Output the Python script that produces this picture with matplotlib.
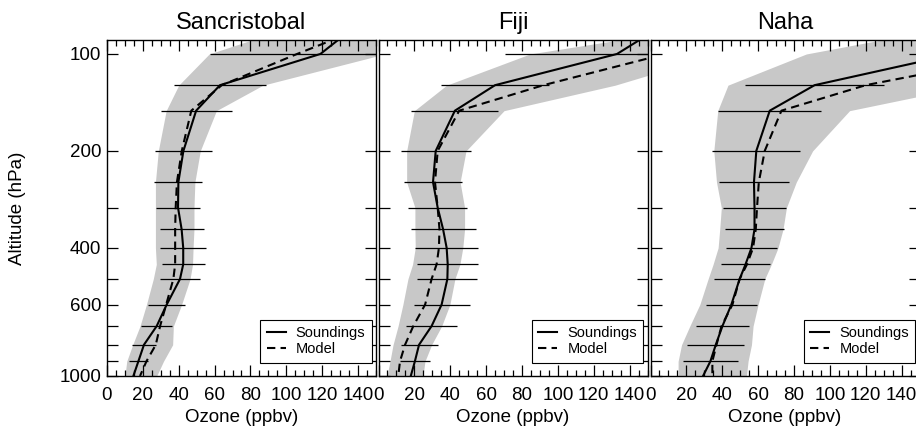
import numpy as np
import matplotlib.pyplot as plt
from matplotlib.ticker import MultipleLocator, NullFormatter

plt.rcParams['font.family'] = ['Liberation Sans', 'DejaVu Sans']

# pressure levels (hPa)
levels = [80, 100, 125, 150, 200, 250, 300, 350, 400, 450, 500, 600, 700, 800, 900, 1000]

stations = ["Sancristobal", "Fiji", "Naha"]

# Sancristobal
sanc_sonde = [141, 119, 63, 49.7, 42.6, 39.8, 39.6, 41.6, 42.5, 42.5, 40.7, 33.3, 27.7, 20.6, 17.5, 14.7]
sanc_model = [150, 106, 64, 47, 41.7, 39, 38.3, 38, 38, 38, 37, 33, 29.6, 27.2, 22, 18.4]
sanc_std = [np.nan, 61.5, 25.5, 19.8, 15.9, 13.4, 12.1, 12.3, 12.7, 12.1, 11.4, 10.3, 8.6, 6.9, 5.1, np.nan]
sanc_lo = [110, 57, 40, 33, 28.6, 27, 27, 27, 27, 27.5, 25.8, 22, 18.4, 14.3, 11, 10]
sanc_hi = [170, 155, 87, 61, 52, 49, 48.5, 48.5, 48, 47.7, 46.3, 41.6, 37, 36.6, 31.5, 27.7]

# Fiji
fiji_sonde = [161, 133, 65, 42.6, 31.9, 30.4, 33, 36, 38, 38.6, 38.4, 35.2, 29.6, 22.6, 20.3, 18]
fiji_model = [230, 160, 92, 45, 33, 31.5, 33, 34, 33.7, 32.4, 29.6, 26, 19.4, 14.8, 12, 11]
fiji_std = [np.nan, 62.5, 30, 24.2, 19.5, 16.1, 16.3, 18.1, 17.6, 17, 16.7, 15.6, 14.3, 10.3, 8.3, np.nan]
fiji_lo = [195, 84.5, 38, 20, 15.7, 15.7, 20.3, 20.3, 20.5, 19, 16.4, 13.6, 10.9, 8.1, 6.4, 4.7]
fiji_hi = [250, 190, 132, 70, 48.8, 45.5, 48, 48, 47, 45.4, 42.6, 39.8, 35.2, 29.6, 25.9, 24.8]

# Naha
naha_sonde = [220, 170, 91.5, 66.5, 59, 57.7, 58, 58, 56.3, 53, 49.7, 45.1, 40.1, 36.4, 33.4, 29.3]
naha_model = [280, 210, 120, 73, 63.7, 60.4, 59.4, 58.7, 57.2, 53.8, 49.7, 45.7, 39.6, 36.8, 34.5, 34.5]
naha_std = [np.nan, np.nan, 38.8, 28.6, 24.5, 19.5, 17.7, 16.5, 14.4, 13.9, 14.2, 14.4, 15, 15.8, 15.3, np.nan]
naha_lo = [180, 86.9, 43.2, 37.5, 35.3, 36.8, 39.5, 38.6, 37.7, 34.9, 32.1, 27.5, 21.9, 17.3, 15.4, 15.4]
naha_hi = [260, 200, 180, 111, 90.4, 81.3, 75.8, 73.9, 71.1, 67.4, 63.7, 60, 57.2, 56.3, 54.4, 53.5]

sondes = [sanc_sonde, fiji_sonde, naha_sonde]
models = [sanc_model, fiji_model, naha_model]
stds = [sanc_std, fiji_std, naha_std]
los = [sanc_lo, fiji_lo, naha_lo]
his = [sanc_hi, fiji_hi, naha_hi]

y_major = [100, 200, 400, 600, 1000]
y_minor = [300, 500, 700, 800, 900]

W, H = 916, 441
fig = plt.figure(figsize=(W / 100, H / 100), dpi=100)

lefts = [107, 378.5, 650.5]
for i, name in enumerate(stations):
    ax = fig.add_axes([lefts[i] / W, (H - 376) / H, 269 / W, 336 / H])

    ax.fill_betweenx(levels, los[i], his[i], color='#c8c8c8', lw=0, zorder=1)
    ax.errorbar(sondes[i], levels, xerr=stds[i], fmt='none', ecolor='k',
                elinewidth=0.9, capsize=0, zorder=2)
    ax.plot(sondes[i], levels, color='k', lw=1.5, label='Soundings', zorder=3)
    ax.plot(models[i], levels, color='k', lw=1.5, ls=(0, (4, 2.5)), label='Model', zorder=3)

    ax.set_yscale('log')
    ax.set_ylim(1000, 90.5)
    ax.set_xlim(0, 150)

    ax.set_yticks(y_major, labels=[str(v) for v in y_major])
    ax.set_yticks(y_minor, minor=True)
    ax.yaxis.set_minor_formatter(NullFormatter())
    ax.set_xticks(range(0, 141, 20))
    ax.xaxis.set_minor_locator(MultipleLocator(5))

    ax.tick_params(which='both', direction='in', top=True, right=True,
                   labelsize=13.5, width=0.9)
    ax.tick_params(axis='y', which='both', length=8, pad=4)
    ax.tick_params(axis='x', which='major', length=8, pad=8)
    ax.tick_params(axis='x', which='minor', length=4)
    if i > 0:
        ax.tick_params(axis='y', which='both', labelleft=False)
    else:
        ax.set_ylabel('Altitude (hPa)', fontsize=13.5)
        ax.yaxis.set_label_coords(-0.331, 0.5)
        ax.yaxis.label.set_verticalalignment('center')

    ax.set_xlabel('Ozone (ppbv)', fontsize=13.5)
    ax.xaxis.set_label_coords(0.5, -0.125)
    ax.xaxis.label.set_verticalalignment('center')

    ax.set_title(name, fontsize=17, pad=8)

    for sp in ax.spines.values():
        sp.set_linewidth(1.0)

    leg = ax.legend(loc='lower right', bbox_to_anchor=(0.985, 0.039), borderaxespad=0,
                    fontsize=10.5, handlelength=1.3, handletextpad=0.7, labelspacing=0.15,
                    borderpad=0.45, fancybox=False, framealpha=1, edgecolor='k')
    leg.get_frame().set_linewidth(0.8)
    leg.set_zorder(5)

fig.savefig('out.png', dpi=100)
